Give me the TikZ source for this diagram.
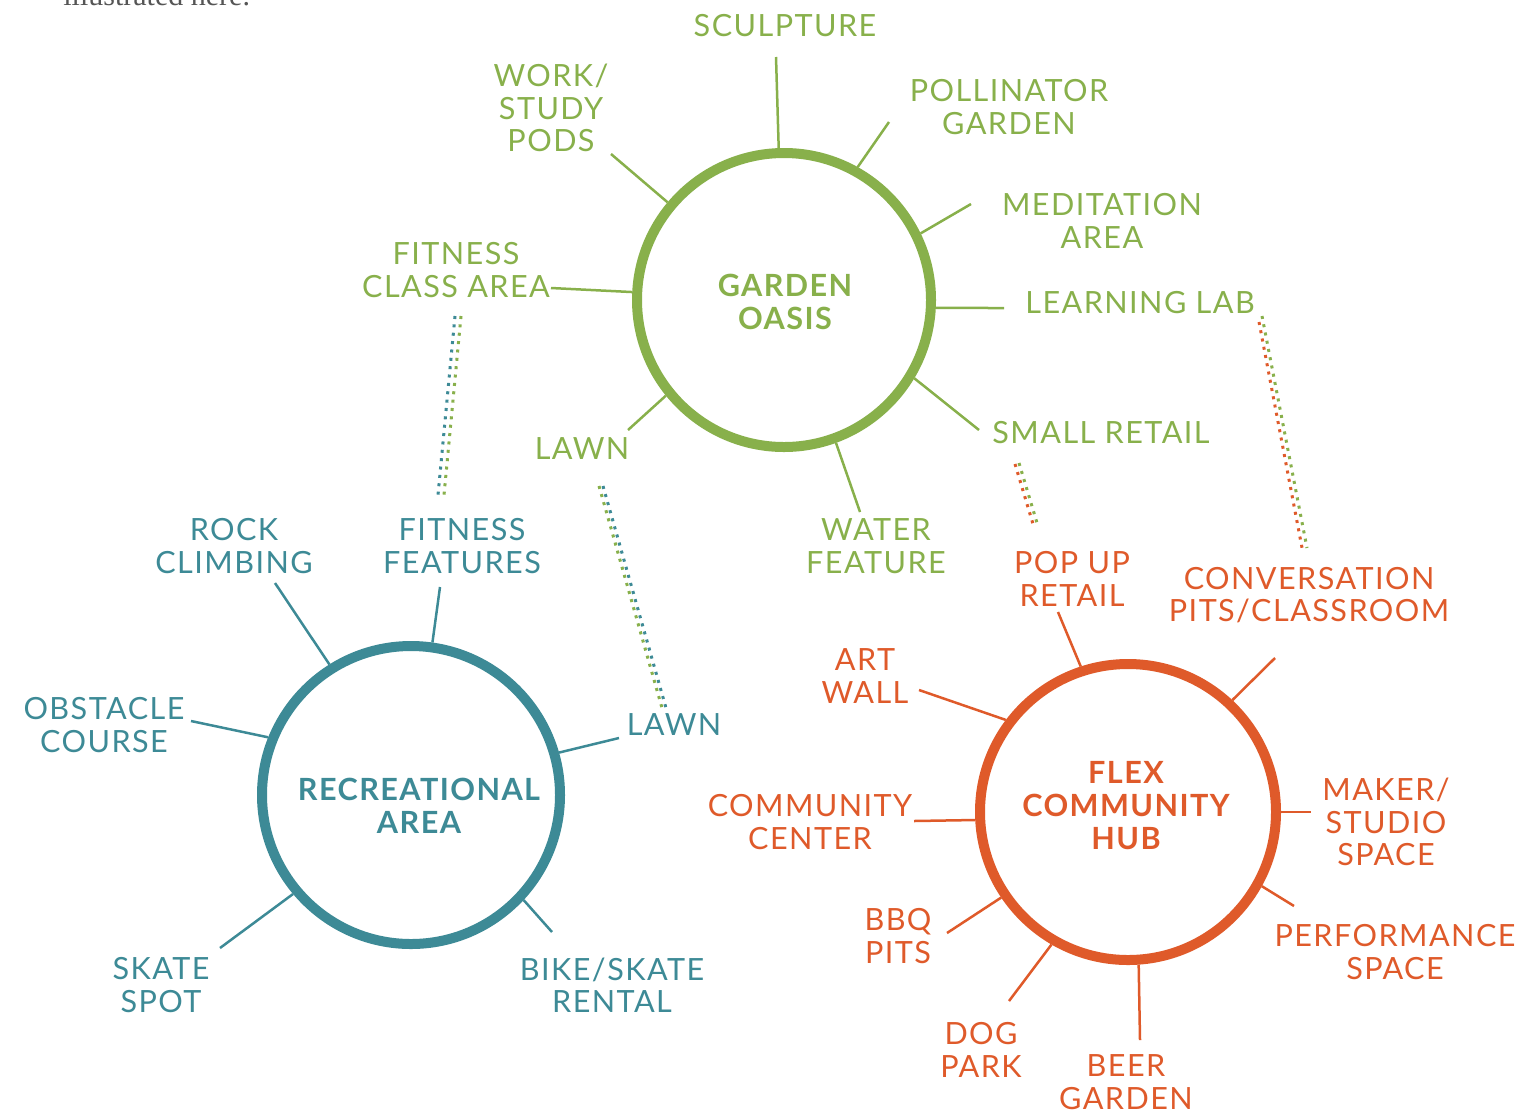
\documentclass[tikz,border=0pt]{standalone}
\usepackage{fontspec}
\setmainfont{Lato}[LetterSpace=4.7]
\newfontfamily\introfont{Liberation Serif}
\definecolor{gr}{HTML}{88B04B}
\definecolor{tl}{HTML}{3D8A96}
\definecolor{org}{HTML}{DF5A2A}
\definecolor{intro}{HTML}{555555}
\begin{document}
\begin{tikzpicture}[x=0.5pt,y=-0.5pt,
  lab/.style={align=center,font=\fontsize{15.3}{16.25}\selectfont,inner sep=0pt},
  hub/.style={circle,draw,line width=5pt,inner sep=0pt,fill=white},
  hubtext/.style={align=center,font=\fontsize{15.3}{16.5}\selectfont\bfseries,inner sep=0pt},
  spoke/.style={line width=1.25pt},
  dots/.style={line width=1.5pt,dash pattern=on 1.5pt off 2.7pt}]
\useasboundingbox (0,0) rectangle (1519,1115);
\clip (0,0) rectangle (1519,1115);

\node[anchor=base west,font=\introfont\fontsize{15}{18}\selectfont,text=intro,inner sep=0pt] (introtext) at (63,5) {illustrated here.};

% hubs
\node[hub,draw=gr,minimum size=147pt] (go) at (784,300) {};
\node[hub,draw=tl,minimum size=149pt] (ra) at (411,795) {};
\node[hub,draw=org,minimum size=148pt] (fh) at (1128,812) {};
\node[hubtext,text=gr] (got) at (785,302) {GARDEN\\OASIS};
\node[hubtext,text=tl] (rat) at (419,806) {RECREATIONAL\\AREA};
\node[hubtext,text=org] (fht) at (1126,806) {FLEX\\COMMUNITY\\HUB};

% green labels
\begin{scope}[every node/.style={lab,text=gr}]
\node (sculp) at (785,26) {SCULPTURE};
\node (work) at (551,108) {WORK/\\STUDY\\PODS};
\node (poll) at (1009,107) {POLLINATOR\\GARDEN};
\node (medit) at (1102,221) {MEDITATION\\AREA};
\node (learn) at (1140,303) {LEARNING LAB};
\node (small) at (1101,433) {SMALL RETAIL};
\node (water) at (876,546) {WATER\\FEATURE};
\node (lawna) at (582,449) {LAWN};
\node (fitc) at (456,270) {FITNESS\\CLASS AREA};
\end{scope}
% teal labels
\begin{scope}[every node/.style={lab,text=tl}]
\node (rock) at (234,546) {ROCK\\CLIMBING};
\node (fitf) at (462,546) {FITNESS\\FEATURES};
\node (obst) at (104,725) {OBSTACLE\\COURSE};
\node (lawnb) at (674,725) {LAWN};
\node (skate) at (161,985) {SKATE\\SPOT};
\node (bike) at (612,985) {BIKE/SKATE\\RENTAL};
\end{scope}
% orange labels
\begin{scope}[every node/.style={lab,text=org}]
\node (pop) at (1072,579) {POP UP\\RETAIL};
\node (conv) at (1309,595) {CONVERSATION\\PITS/CLASSROOM};
\node (art) at (865,676) {ART\\WALL};
\node (comm) at (810,822) {COMMUNITY\\CENTER};
\node (maker) at (1386,822) {MAKER/\\STUDIO\\SPACE};
\node (perf) at (1395,952) {PERFORMANCE\\SPACE};
\node (bbq) at (898,936) {BBQ\\PITS};
\node (dog) at (981,1050) {DOG\\PARK};
\node (beer) at (1126,1082) {BEER\\GARDEN};
\end{scope}

% spoke outer ends
\coordinate (e-sculp) at (776,57);
\coordinate (e-poll) at (889,122);
\coordinate (e-medit) at (971,204);
\coordinate (e-learn) at (1004,308);
\coordinate (e-small) at (979,430);
\coordinate (e-water) at (860,512);
\coordinate (e-lawna) at (628,430);
\coordinate (e-fitc) at (551,288);
\coordinate (e-work) at (611,154);
\coordinate (e-rock) at (275,583);
\coordinate (e-fitf) at (440,587);
\coordinate (e-obst) at (191,721);
\coordinate (e-lawnb) at (619,738);
\coordinate (e-skate) at (220,948);
\coordinate (e-bike) at (552,932);
\coordinate (e-pop) at (1058,612);
\coordinate (e-conv) at (1275,658);
\coordinate (e-art) at (919,690);
\coordinate (e-comm) at (914,821);
\coordinate (e-maker) at (1311,812);
\coordinate (e-perf) at (1294,906);
\coordinate (e-bbq) at (947,933);
\coordinate (e-dog) at (1009,1001);
\coordinate (e-beer) at (1140,1040);

\begin{scope}[spoke,draw=gr]
\draw (go.92.6) -- (e-sculp);
\draw (go.61.9) -- (e-poll);
\draw (go.26.4) -- (e-medit);
\draw (go.-3) -- (e-learn);
\draw (go.-31.7) -- (e-small);
\draw (go.-70.7) -- (e-water);
\draw (go.219.2) -- (e-lawna);
\draw (go.177) -- (e-fitc);
\draw (go.140.8) -- (e-work);
\end{scope}
\begin{scope}[spoke,draw=tl]
\draw (ra.122.2) -- (e-rock);
\draw (ra.82.9) -- (e-fitf);
\draw (ra.158.7) -- (e-obst);
\draw (ra.16.4) -- (e-lawnb);
\draw (ra.220) -- (e-skate);
\draw (ra.-43.2) -- (e-bike);
\end{scope}
\begin{scope}[spoke,draw=org]
\draw (fh.108.6) -- (e-pop);
\draw (fh.47.1) -- (e-conv);
\draw (fh.143.4) -- (e-art);
\draw (fh.183.4) -- (e-comm);
\draw (fh.0) -- (e-maker);
\draw (fh.-29.4) -- (e-perf);
\draw (fh.214.2) -- (e-bbq);
\draw (fh.240.4) -- (e-dog);
\draw (fh.-86.3) -- (e-beer);
\end{scope}

% dotted links
\coordinate (d1a) at (455,316); \coordinate (d1b) at (438,495);
\coordinate (d1c) at (461,316); \coordinate (d1d) at (444,495);
\draw[dots,tl] (d1a) -- (d1b);
\draw[dots,gr] (d1c) -- (d1d);
\coordinate (d2a) at (599,486); \coordinate (d2b) at (662,708);
\coordinate (d2c) at (603,486); \coordinate (d2d) at (666,708);
\draw[dots,gr] (d2a) -- (d2b);
\draw[dots,tl] (d2c) -- (d2d);
\coordinate (d3a) at (1015,464); \coordinate (d3b) at (1033,524);
\coordinate (d3c) at (1019,463); \coordinate (d3d) at (1037,523);
\draw[dots,org] (d3a) -- (d3b);
\draw[dots,gr] (d3c) -- (d3d);
\coordinate (d4a) at (1259,322); \coordinate (d4b) at (1303,553);
\coordinate (d4c) at (1262,316); \coordinate (d4d) at (1307,548);
\draw[dots,org] (d4a) -- (d4b);
\draw[dots,gr] (d4c) -- (d4d);
\end{tikzpicture}
\end{document}
